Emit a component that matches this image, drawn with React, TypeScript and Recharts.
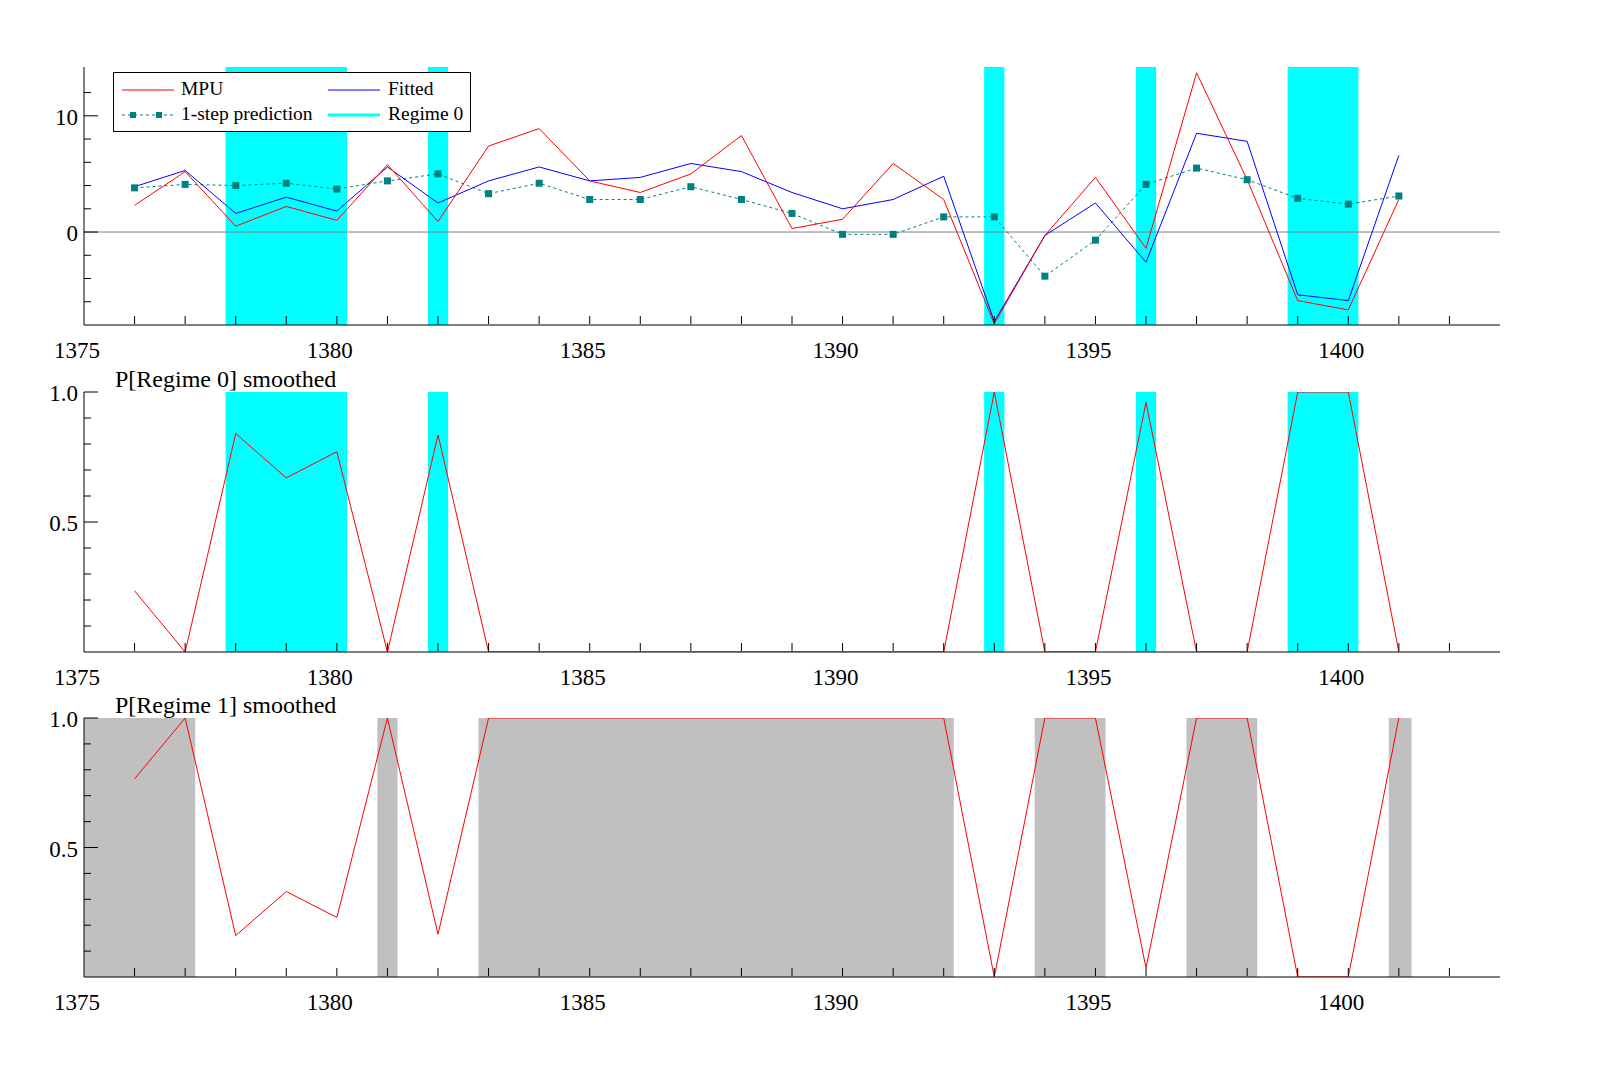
import React from 'react';
import { ComposedChart, Line, XAxis, YAxis, ReferenceArea, ReferenceLine } from 'recharts';

const years = [1376, 1377, 1378, 1379, 1380, 1381, 1382, 1383, 1384, 1385, 1386, 1387, 1388, 1389, 1390, 1391, 1392, 1393, 1394, 1395, 1396, 1397, 1398, 1399, 1400, 1401];
const mpu = [2.3, 5.2, 0.5, 2.2, 1.0, 5.8, 0.9, 7.4, 8.9, 4.4, 3.4, 5.0, 8.3, 0.3, 1.1, 5.9, 2.8, -7.9, -0.3, 4.7, -1.4, 13.7, 4.5, -5.9, -6.7, 2.8];
const fitted = [3.9, 5.3, 1.6, 3.0, 1.8, 5.6, 2.5, 4.4, 5.6, 4.4, 4.7, 5.9, 5.2, 3.4, 2.0, 2.8, 4.8, -7.7, -0.3, 2.5, -2.6, 8.5, 7.8, -5.4, -5.9, 6.6];
const prediction = [3.8, 4.1, 4.0, 4.2, 3.7, 4.4, 5.0, 3.3, 4.2, 2.8, 2.8, 3.9, 2.8, 1.6, -0.2, -0.2, 1.3, 1.3, -3.8, -0.7, 4.1, 5.5, 4.5, 2.9, 2.4, 3.1];
const pRegime0 = [0.235, 0, 0.84, 0.67, 0.77, 0, 0.835, 0, 0, 0, 0, 0, 0, 0, 0, 0, 0, 1, 0, 0, 0.96, 0, 0, 1, 1, 0];
const pRegime1 = [0.765, 1, 0.16, 0.33, 0.23, 1, 0.165, 1, 1, 1, 1, 1, 1, 1, 1, 1, 1, 0, 1, 1, 0.035, 1, 1, 0, 0, 1];
const regime0Spans: [number, number][] = [[1377.8, 1380.2], [1381.8, 1382.2], [1392.8, 1393.2], [1395.8, 1396.2], [1398.8, 1400.2]];
const regime1Spans: [number, number][] = [[1375, 1377.2], [1380.8, 1381.2], [1382.8, 1392.2], [1393.8, 1395.2], [1396.8, 1398.2], [1400.8, 1401.25]];
const xTicks = Array.from({ length: 28 }, (_, i) => 1375 + i);

const FONT = '"Liberation Serif", "DejaVu Serif", serif';
const W = 1599;

const rows = years.map((y, i) => ({
  year: y, mpu: mpu[i], fitted: fitted[i], pred: prediction[i], p0: pRegime0[i], p1: pRegime1[i],
}));

const XTick = (props: any) => {
  const { x, y, payload } = props;
  const v = payload.value;
  return (
    <g>
      {v > 1375 && <line x1={x} x2={x} y1={y - 1} y2={y - 9} stroke="#000" />}
      {v % 5 === 0 && (
        <text x={x - 7} y={y + 33} textAnchor="middle" fontSize={23} fontFamily={FONT} fill="#000">{v}</text>
      )}
    </g>
  );
};

const makeYTick = (labels: Record<string, string>) => (props: any) => {
  const { x, y, payload } = props;
  const key = String(Math.round(payload.value * 100) / 100);
  const lab = labels[key];
  return (
    <g>
      <line x1={x} x2={x + (lab ? 14 : 7)} y1={y} y2={y} stroke="#000" />
      {lab && (
        <text x={x - 6} y={y + 9} textAnchor="end" fontSize={23} fontFamily={FONT} fill="#000">{lab}</text>
      )}
    </g>
  );
};

const SquareDot = (props: any) => {
  const { cx, cy } = props;
  if (cx == null || cy == null) return null;
  return <rect x={cx - 3.5} y={cy - 3.5} width={7} height={7} fill="#008080" />;
};

const Panel = ({ top, height, children, domain, ticks, labels, spans, spanColor }: any) => (
  <div style={{ position: 'absolute', left: 0, top: 0 }}>
    <ComposedChart width={W} height={top + height + 61} data={rows}
      margin={{ top, left: 83, right: W - 1500, bottom: 60 }}>
      <XAxis dataKey="year" type="number" domain={[1375, 1403]} ticks={xTicks} interval={0}
        height={1} tickLine={false} tickSize={0} tickMargin={0} tick={<XTick />} axisLine={{ stroke: '#000' }} allowDataOverflow />
      <YAxis type="number" domain={domain} ticks={ticks} interval={0} width={1} tickLine={false}
        tickSize={0} tickMargin={0} tick={makeYTick(labels)} axisLine={{ stroke: '#000' }} allowDataOverflow />
      {spans.map(([a, b]: [number, number], i: number) => (
        <ReferenceArea key={i} x1={a} x2={b} y1={domain[0]} y2={domain[1]} fill={spanColor} fillOpacity={1} stroke="none" />
      ))}
      {children}
    </ComposedChart>
  </div>
);

export default function App() {
  return (
    <div style={{ position: 'absolute', left: 0, top: 0, width: W, height: 1065, overflow: 'hidden', background: '#fff', fontFamily: FONT }}>
      <style>{'body{margin:0;overflow:hidden}'}</style>
      <Panel top={67} height={258} domain={[-8, 14.2]} ticks={[-6, -4, -2, 0, 2, 4, 6, 8, 10, 12]}
        labels={{ '0': '0', '10': '10' }} spans={regime0Spans} spanColor="#00ffff">
        <ReferenceLine y={0} stroke="#808080" />
        <Line dataKey="pred" stroke="#008080" strokeDasharray="3 3" strokeWidth={1} dot={<SquareDot />} isAnimationActive={false} />
        <Line dataKey="fitted" stroke="#0000ff" strokeWidth={1} dot={false} isAnimationActive={false} />
        <Line dataKey="mpu" stroke="#ff0000" strokeWidth={1} dot={false} isAnimationActive={false} />
      </Panel>
      <Panel top={392} height={260} domain={[0, 1]} ticks={[0.1, 0.2, 0.3, 0.4, 0.5, 0.6, 0.7, 0.8, 0.9, 1]}
        labels={{ '0.5': '0.5', '1': '1.0' }} spans={regime0Spans} spanColor="#00ffff">
        <Line dataKey="p0" stroke="#ff0000" strokeWidth={1} dot={false} isAnimationActive={false} />
      </Panel>
      <Panel top={718} height={259} domain={[0, 1]} ticks={[0.1, 0.2, 0.3, 0.4, 0.5, 0.6, 0.7, 0.8, 0.9, 1]}
        labels={{ '0.5': '0.5', '1': '1.0' }} spans={regime1Spans} spanColor="#c0c0c0">
        <Line dataKey="p1" stroke="#ff0000" strokeWidth={1} dot={false} isAnimationActive={false} />
      </Panel>
      <div style={{ position: 'absolute', left: 115, top: 365, fontSize: 24, lineHeight: '28px' }}>P[Regime 0] smoothed</div>
      <div style={{ position: 'absolute', left: 115, top: 691, fontSize: 24, lineHeight: '28px' }}>P[Regime 1] smoothed</div>
      <div style={{ position: 'absolute', left: 113, top: 72, width: 356, height: 58, border: '1px solid #000', background: '#fff', fontSize: 19.5, lineHeight: '22px' }}>
        <svg width={356} height={58} style={{ position: 'absolute', left: 0, top: 0 }}>
          <line x1={8} x2={60} y1={17} y2={17} stroke="#ff0000" />
          <line x1={214} x2={266} y1={17} y2={17} stroke="#0000ff" />
          <line x1={8} x2={60} y1={42} y2={42} stroke="#008080" strokeDasharray="3 3" />
          <rect x={16} y={39} width={6} height={6} fill="#008080" />
          <rect x={42} y={39} width={6} height={6} fill="#008080" />
          <line x1={214} x2={266} y1={42} y2={42} stroke="#00ffff" strokeWidth={3} />
        </svg>
        <div style={{ position: 'absolute', left: 67, top: 5 }}>MPU</div>
        <div style={{ position: 'absolute', left: 274, top: 5 }}>Fitted</div>
        <div style={{ position: 'absolute', left: 67, top: 30 }}>1-step prediction</div>
        <div style={{ position: 'absolute', left: 274, top: 30 }}>Regime 0</div>
      </div>
    </div>
  );
}
